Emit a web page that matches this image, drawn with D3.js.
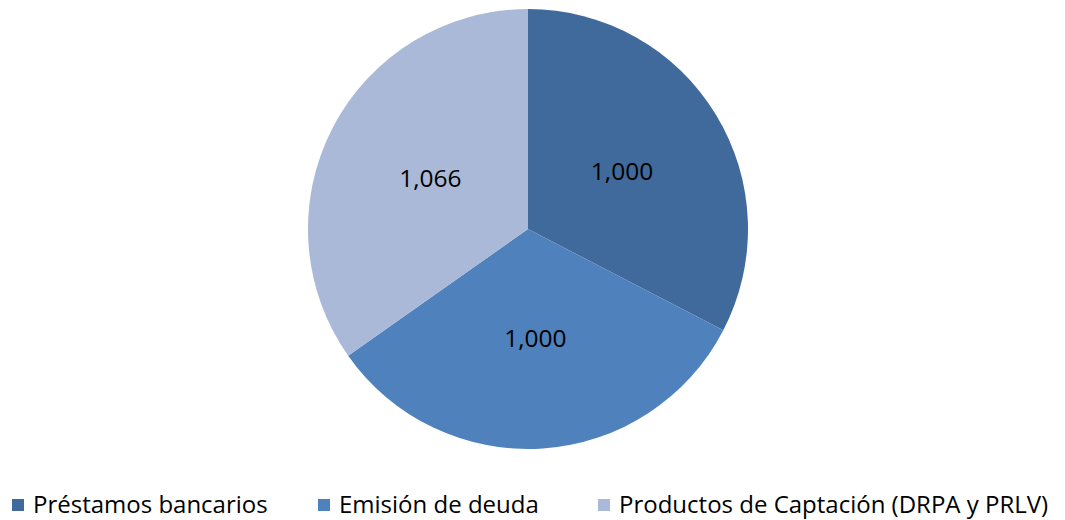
<!DOCTYPE html>
<html>
<head>
<meta charset="utf-8">
<script src="https://cdn.jsdelivr.net/npm/d3@7"></script>
<style>
  body { margin: 0; background: #fff; }
  svg { display: block; }
</style>
</head>
<body>
<script>
const categories = ["Préstamos bancarios", "Emisión de deuda", "Productos de Captación (DRPA y PRLV)"]
const values = [1000, 1000, 1066]
const colors = ["#406A9C", "#4F81BD", "#AAB9D7"]

const width = 1065
const height = 520
const cx = 528, cy = 229, radius = 220

const svg = d3.select("body").append("svg")
  .attr("width", width)
  .attr("height", height)
  .attr("font-family", "'Open Sans', sans-serif")

const pie = d3.pie().sort(null).value(d => d)
const arcs = pie(values)
const arc = d3.arc().innerRadius(0).outerRadius(radius)
const labelArc = d3.arc().innerRadius(radius * 0.5).outerRadius(radius * 0.5)

const g = svg.append("g").attr("transform", `translate(${cx},${cy})`)

g.selectAll("path")
  .data(arcs)
  .join("path")
    .attr("d", arc)
    .attr("fill", (d, i) => colors[i])

g.selectAll("text")
  .data(arcs)
  .join("text")
    .attr("transform", d => `translate(${labelArc.centroid(d)})`)
    .attr("text-anchor", "middle")
    .attr("dy", "0.35em")
    .attr("font-size", 24.5)
    .attr("fill", "#000")
    .text(d => d3.format(",")(d.data))

// legend
const legendX = [12, 318, 598]
const legend = svg.append("g")
  .selectAll("g")
  .data(categories)
  .join("g")
    .attr("transform", (d, i) => `translate(${legendX[i]},499)`)

legend.append("rect")
  .attr("width", 12)
  .attr("height", 12)
  .attr("fill", (d, i) => colors[i])

legend.append("text")
  .attr("x", 21)
  .attr("y", 6)
  .attr("dy", "0.35em")
  .attr("font-size", 24)
  .attr("fill", "#000")
  .text(d => d)
</script>
</body>
</html>
